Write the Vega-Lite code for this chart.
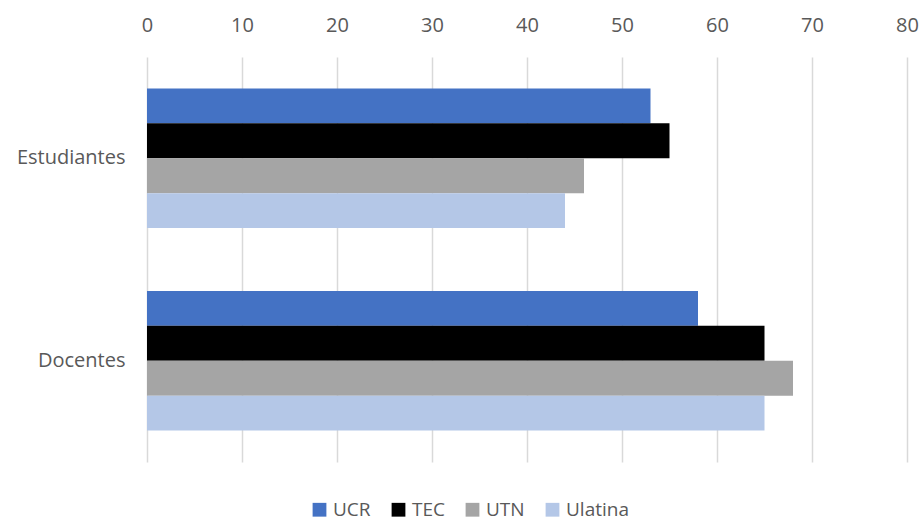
{
  "$schema": "https://vega.github.io/schema/vega-lite/v6.json",
  "width": 760,
  "height": 405,
  "autosize": {"type": "none"},
  "padding": {"left": 147, "top": 57, "right": 15, "bottom": 61},
  "background": "white",
  "data": {
    "values": [
      {"grupo": "Estudiantes", "universidad": "UCR", "valor": 53},
      {"grupo": "Estudiantes", "universidad": "TEC", "valor": 55},
      {"grupo": "Estudiantes", "universidad": "UTN", "valor": 46},
      {"grupo": "Estudiantes", "universidad": "Ulatina", "valor": 44},
      {"grupo": "Docentes", "universidad": "UCR", "valor": 58},
      {"grupo": "Docentes", "universidad": "TEC", "valor": 65},
      {"grupo": "Docentes", "universidad": "UTN", "valor": 68},
      {"grupo": "Docentes", "universidad": "Ulatina", "valor": 65}
    ]
  },
  "mark": {"type": "bar"},
  "encoding": {
    "y": {
      "field": "grupo",
      "type": "nominal",
      "sort": ["Estudiantes", "Docentes"],
      "scale": {"paddingInner": 0.31, "paddingOuter": 0.155},
      "axis": {"title": null, "domain": false, "ticks": false, "labelPadding": 22, "grid": false}
    },
    "yOffset": {
      "field": "universidad",
      "type": "nominal",
      "sort": ["UCR", "TEC", "UTN", "Ulatina"],
      "scale": {"paddingInner": 0, "paddingOuter": 0}
    },
    "x": {
      "field": "valor",
      "type": "quantitative",
      "scale": {"domain": [0, 80], "nice": false},
      "axis": {"orient": "top", "title": null, "domain": false, "ticks": false, "values": [0,10,20,30,40,50,60,70,80], "labelOverlap": false, "labelFlush": false, "labelPadding": 22, "grid": true, "gridColor": "#D9D9D9", "gridWidth": 1.5}
    },
    "color": {
      "field": "universidad",
      "type": "nominal",
      "sort": ["UCR", "TEC", "UTN", "Ulatina"],
      "scale": {"domain": ["UCR", "TEC", "UTN", "Ulatina"], "range": ["#4472C4", "#000000", "#A5A5A5", "#B4C7E7"]},
      "legend": {
        "title": null,
        "orient": "none",
        "direction": "horizontal",
        "legendX": 163,
        "legendY": 443,
        "padding": 0,
        "symbolType": "square",
        "symbolSize": 190,
        "symbolStrokeWidth": 0,
        "columnPadding": 18,
        "labelOffset": 4,
        "labelFontSize": 19
      }
    }
  },
  "config": {
    "view": {"stroke": null},
    "font": "Open Sans",
    "axis": {"labelFont": "Open Sans", "labelFontSize": 20, "labelColor": "#595959"},
    "legend": {"labelFont": "Open Sans", "labelFontSize": 19, "labelColor": "#595959"}
  }
}
